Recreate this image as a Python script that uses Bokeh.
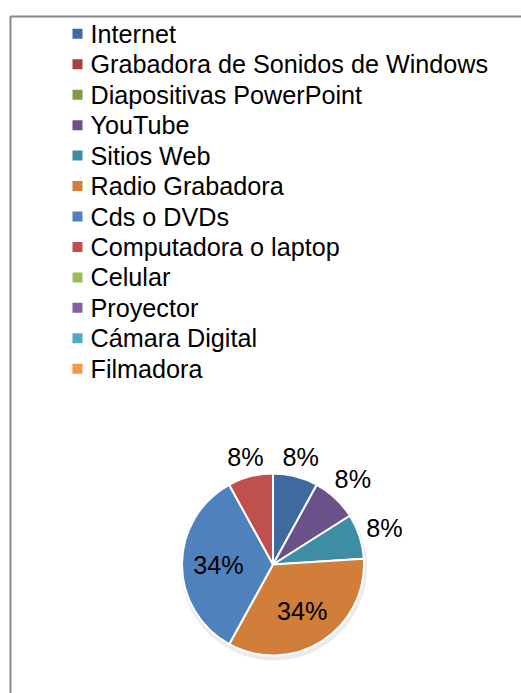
import math
from bokeh.plotting import figure
from bokeh.models import ColumnDataSource
from bokeh.core.properties import value
from bokeh.embed import file_html
from bokeh.resources import INLINE

categories = ["Internet", "Grabadora de Sonidos de Windows", "Diapositivas PowerPoint",
              "YouTube", "Sitios Web", "Radio Grabadora", "Cds o DVDs",
              "Computadora o laptop", "Celular", "Proyector", "Cámara Digital", "Filmadora"]
percentages = [8, 0, 0, 8, 8, 34, 34, 8, 0, 0, 0, 0]
colors = ["#3F6AA0", "#A5403D", "#7F9B48", "#6A5189", "#3D8DA5", "#D07E3A",
          "#4F81BD", "#C0504D", "#9BBB59", "#8064A2", "#4BACC6", "#F79646"]

W, H = 521, 693
FONT = "Liberation Sans"
FS = 25.2

p = figure(width=W, height=H, x_range=(0, W), y_range=(0, H),
           output_backend="svg", toolbar_location=None, min_border=0)
p.axis.visible = False
p.grid.visible = False
p.outline_line_color = None
p.background_fill_color = "white"
p.border_fill_color = "white"

def sy(y):  # screen y -> data y
    return H - y

def sx(x):
    return x

# frame border
p.quad(left=[sx(10)], right=[W + 20], top=[sy(16)], bottom=[-20],
       fill_color=None, line_color="#8a8a8a", line_width=2)

# legend
n = len(categories)
leg_y = [sy(33.3 + 30.45 * i) for i in range(n)]
p.rect(x=[sx(77)] * n, y=leg_y, width=10, height=10, fill_color=colors, line_color=None)
p.text(x=[sx(90)] * n, y=leg_y, text=categories, text_font=value(FONT),
       text_font_size=f"{FS}px", text_baseline="middle", text_align="left", text_color="#000000")

# pie
cx, cy, r = sx(272.5), sy(564), 91
total = sum(percentages)
starts, ends, mids = [], [], []
cum = 0
for v in percentages:
    a0 = math.pi / 2 - 2 * math.pi * cum / total
    cum += v
    a1 = math.pi / 2 - 2 * math.pi * cum / total
    starts.append(a0)
    ends.append(a1)
    mids.append((a0 + a1) / 2)

nz = [i for i, v in enumerate(percentages) if v > 0]
src = ColumnDataSource(dict(
    start=[starts[i] for i in nz], end=[ends[i] for i in nz], color=[colors[i] for i in nz]))

# soft shadow
p.circle(x=[cx + 1], y=[cy - 3], radius=r + 2, fill_color="#dddddd", fill_alpha=0.6, line_color=None)
p.wedge(x=cx, y=cy, radius=r, start_angle="start", end_angle="end", direction="clock",
        fill_color="color", line_color="white", line_width=2, source=src)

lx, ly, lt = [], [], []
for i in nz:
    m = mids[i]
    c, s = math.cos(m), math.sin(m)
    if percentages[i] < 15:
        d = r + 6 + abs(c) * 18 + abs(s) * 10
    else:
        d = r * 0.6
    lx.append(cx + d * c)
    ly.append(cy + d * s)
    lt.append(f"{percentages[i]}%")
p.text(x=lx, y=ly, text=lt, text_font=value(FONT), text_font_size=f"{FS}px",
       text_baseline="middle", text_align="center", text_color="#000000")

open("out.html", "w").write(file_html(p, INLINE))
